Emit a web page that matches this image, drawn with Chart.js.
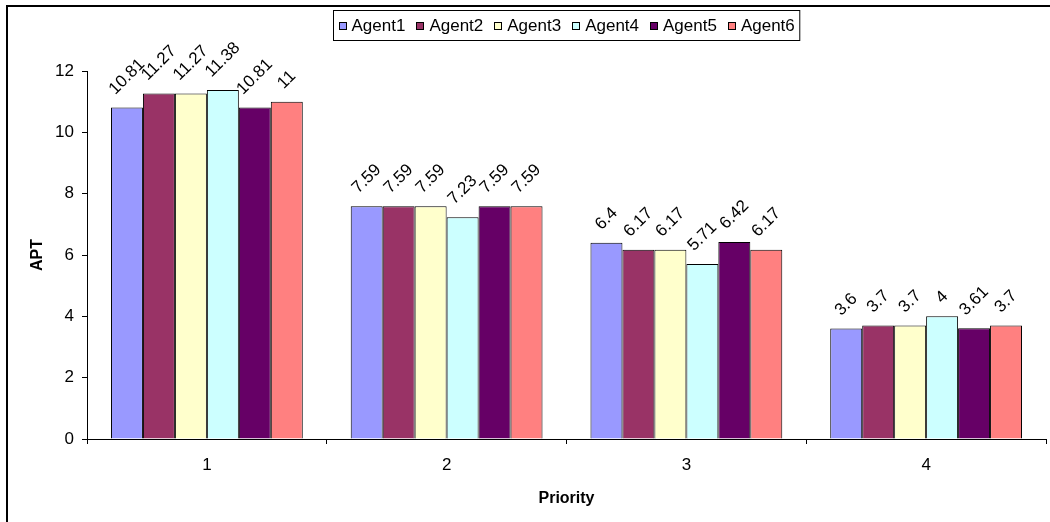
<!DOCTYPE html>
<html>
<head>
<meta charset="utf-8">
<script src="https://cdn.jsdelivr.net/npm/chart.js@4.4.1/dist/chart.umd.min.js"></script>
<style>
  html, body { margin: 0; padding: 0; background: #fff; }
  #wrap { width: 1050px; height: 522px; position: relative; }
</style>
</head>
<body>
<div id="wrap"><canvas id="c" width="1050" height="522"></canvas></div>
<script>
// Priority categories and average processing time (APT) per agent
const categories = ['1', '2', '3', '4'];
const agentNames = ['Agent1', 'Agent2', 'Agent3', 'Agent4', 'Agent5', 'Agent6'];
const agent1 = [10.81, 7.59, 6.4, 3.6];
const agent2 = [11.27, 7.59, 6.17, 3.7];
const agent3 = [11.27, 7.59, 6.17, 3.7];
const agent4 = [11.38, 7.23, 5.71, 4];
const agent5 = [10.81, 7.59, 6.42, 3.61];
const agent6 = [11, 7.59, 6.17, 3.7];
const yTicks = [0, 2, 4, 6, 8, 10, 12];

const seriesValues = [agent1, agent2, agent3, agent4, agent5, agent6];
const seriesColors = ['#9999FF', '#993366', '#FFFFCC', '#CCFFFF', '#660066', '#FF8080'];

const FONT = '"Liberation Sans", Arial, sans-serif';
Chart.defaults.font.family = FONT;
Chart.defaults.font.size = 17;
Chart.defaults.color = '#000';

// Outer frame, boxed legend and rotated value labels
const decorations = {
  id: 'decorations',
  afterDraw(chart) {
    const ctx = chart.ctx;
    const area = chart.chartArea;
    ctx.save();

    // frame
    ctx.strokeStyle = '#000';
    ctx.lineWidth = 2;
    ctx.beginPath();
    ctx.moveTo(7, 530);
    ctx.lineTo(7, 6);
    ctx.lineTo(1060, 6);
    ctx.stroke();

    // value labels, rotated 45 degrees above each bar
    ctx.font = '17px ' + FONT;
    ctx.fillStyle = '#000';
    ctx.textAlign = 'center';
    ctx.textBaseline = 'middle';
    chart.data.datasets.forEach((ds, di) => {
      const meta = chart.getDatasetMeta(di);
      meta.data.forEach((bar, i) => {
        const txt = String(ds.data[i]);
        const w = ctx.measureText(txt).width;
        const half = (w + 13) / (2 * Math.SQRT2);
        ctx.save();
        ctx.translate(bar.x, bar.y - 11 - half);
        ctx.rotate(-Math.PI / 4);
        ctx.fillText(txt, 0, 0);
        ctx.restore();
      });
    });

    // legend
    ctx.font = '17px ' + FONT;
    ctx.textAlign = 'left';
    ctx.textBaseline = 'middle';
    const sq = 7, gapText = 6, gapItem = 11, pad = 5;
    const widths = chart.data.datasets.map(ds => ctx.measureText(ds.label).width);
    let total = pad * 2;
    widths.forEach((w, i) => { total += sq + gapText + w + (i < widths.length - 1 ? gapItem : 0); });
    const cx = (area.left + area.right) / 2;
    const boxLeft = Math.round(cx - total / 2) + 0.5;
    const boxTop = 10.5, boxH = 30;
    ctx.lineWidth = 1;
    ctx.strokeStyle = '#000';
    ctx.strokeRect(boxLeft, boxTop, total, boxH);
    let x = boxLeft + pad;
    const midY = boxTop + boxH / 2;
    chart.data.datasets.forEach((ds, i) => {
      ctx.fillStyle = ds.backgroundColor;
      ctx.fillRect(Math.round(x), Math.round(midY - sq / 2), sq, sq);
      ctx.strokeRect(Math.round(x) + 0.5, Math.round(midY - sq / 2) + 0.5, sq, sq);
      ctx.fillStyle = '#000';
      ctx.fillText(ds.label, x + sq + gapText, midY + 1);
      x += sq + gapText + widths[i] + gapItem;
    });
    ctx.restore();
  }
};

new Chart(document.getElementById('c'), {
  type: 'bar',
  data: {
    labels: categories,
    datasets: agentNames.map((name, i) => ({
      label: name,
      data: seriesValues[i],
      backgroundColor: seriesColors[i],
      borderColor: '#000',
      borderWidth: 1,
      categoryPercentage: 0.8,
      barPercentage: 1.0
    }))
  },
  options: {
    responsive: false,
    animation: false,
    layout: { padding: { top: 71, right: 4, left: 0, bottom: 0 } },
    plugins: { legend: { display: false }, tooltip: { enabled: false } },
    scales: {
      x: {
        grid: { offset: true, drawOnChartArea: false, drawTicks: true, tickLength: 5, color: '#000' },
        border: { display: true, color: '#000', width: 1 },
        ticks: { padding: 11, font: { size: 17 } },
        title: { display: true, text: 'Priority', font: { size: 16, weight: 'bold' }, padding: { top: 0, bottom: 14 } },
        afterFit(scale) { scale.height = 83; }
      },
      y: {
        min: 0,
        max: 12,
        afterBuildTicks(scale) { scale.ticks = yTicks.map(v => ({ value: v })); },
        grid: { drawOnChartArea: false, drawTicks: true, tickLength: 5, color: '#000' },
        border: { display: true, color: '#000', width: 1 },
        ticks: { padding: 8, font: { size: 17 } },
        title: { display: true, text: 'APT', font: { size: 16, weight: 'bold' }, padding: { top: 28, bottom: 0 } },
        afterFit(scale) { scale.width = 87; }
      }
    }
  },
  plugins: [decorations]
});
</script>
</body>
</html>
